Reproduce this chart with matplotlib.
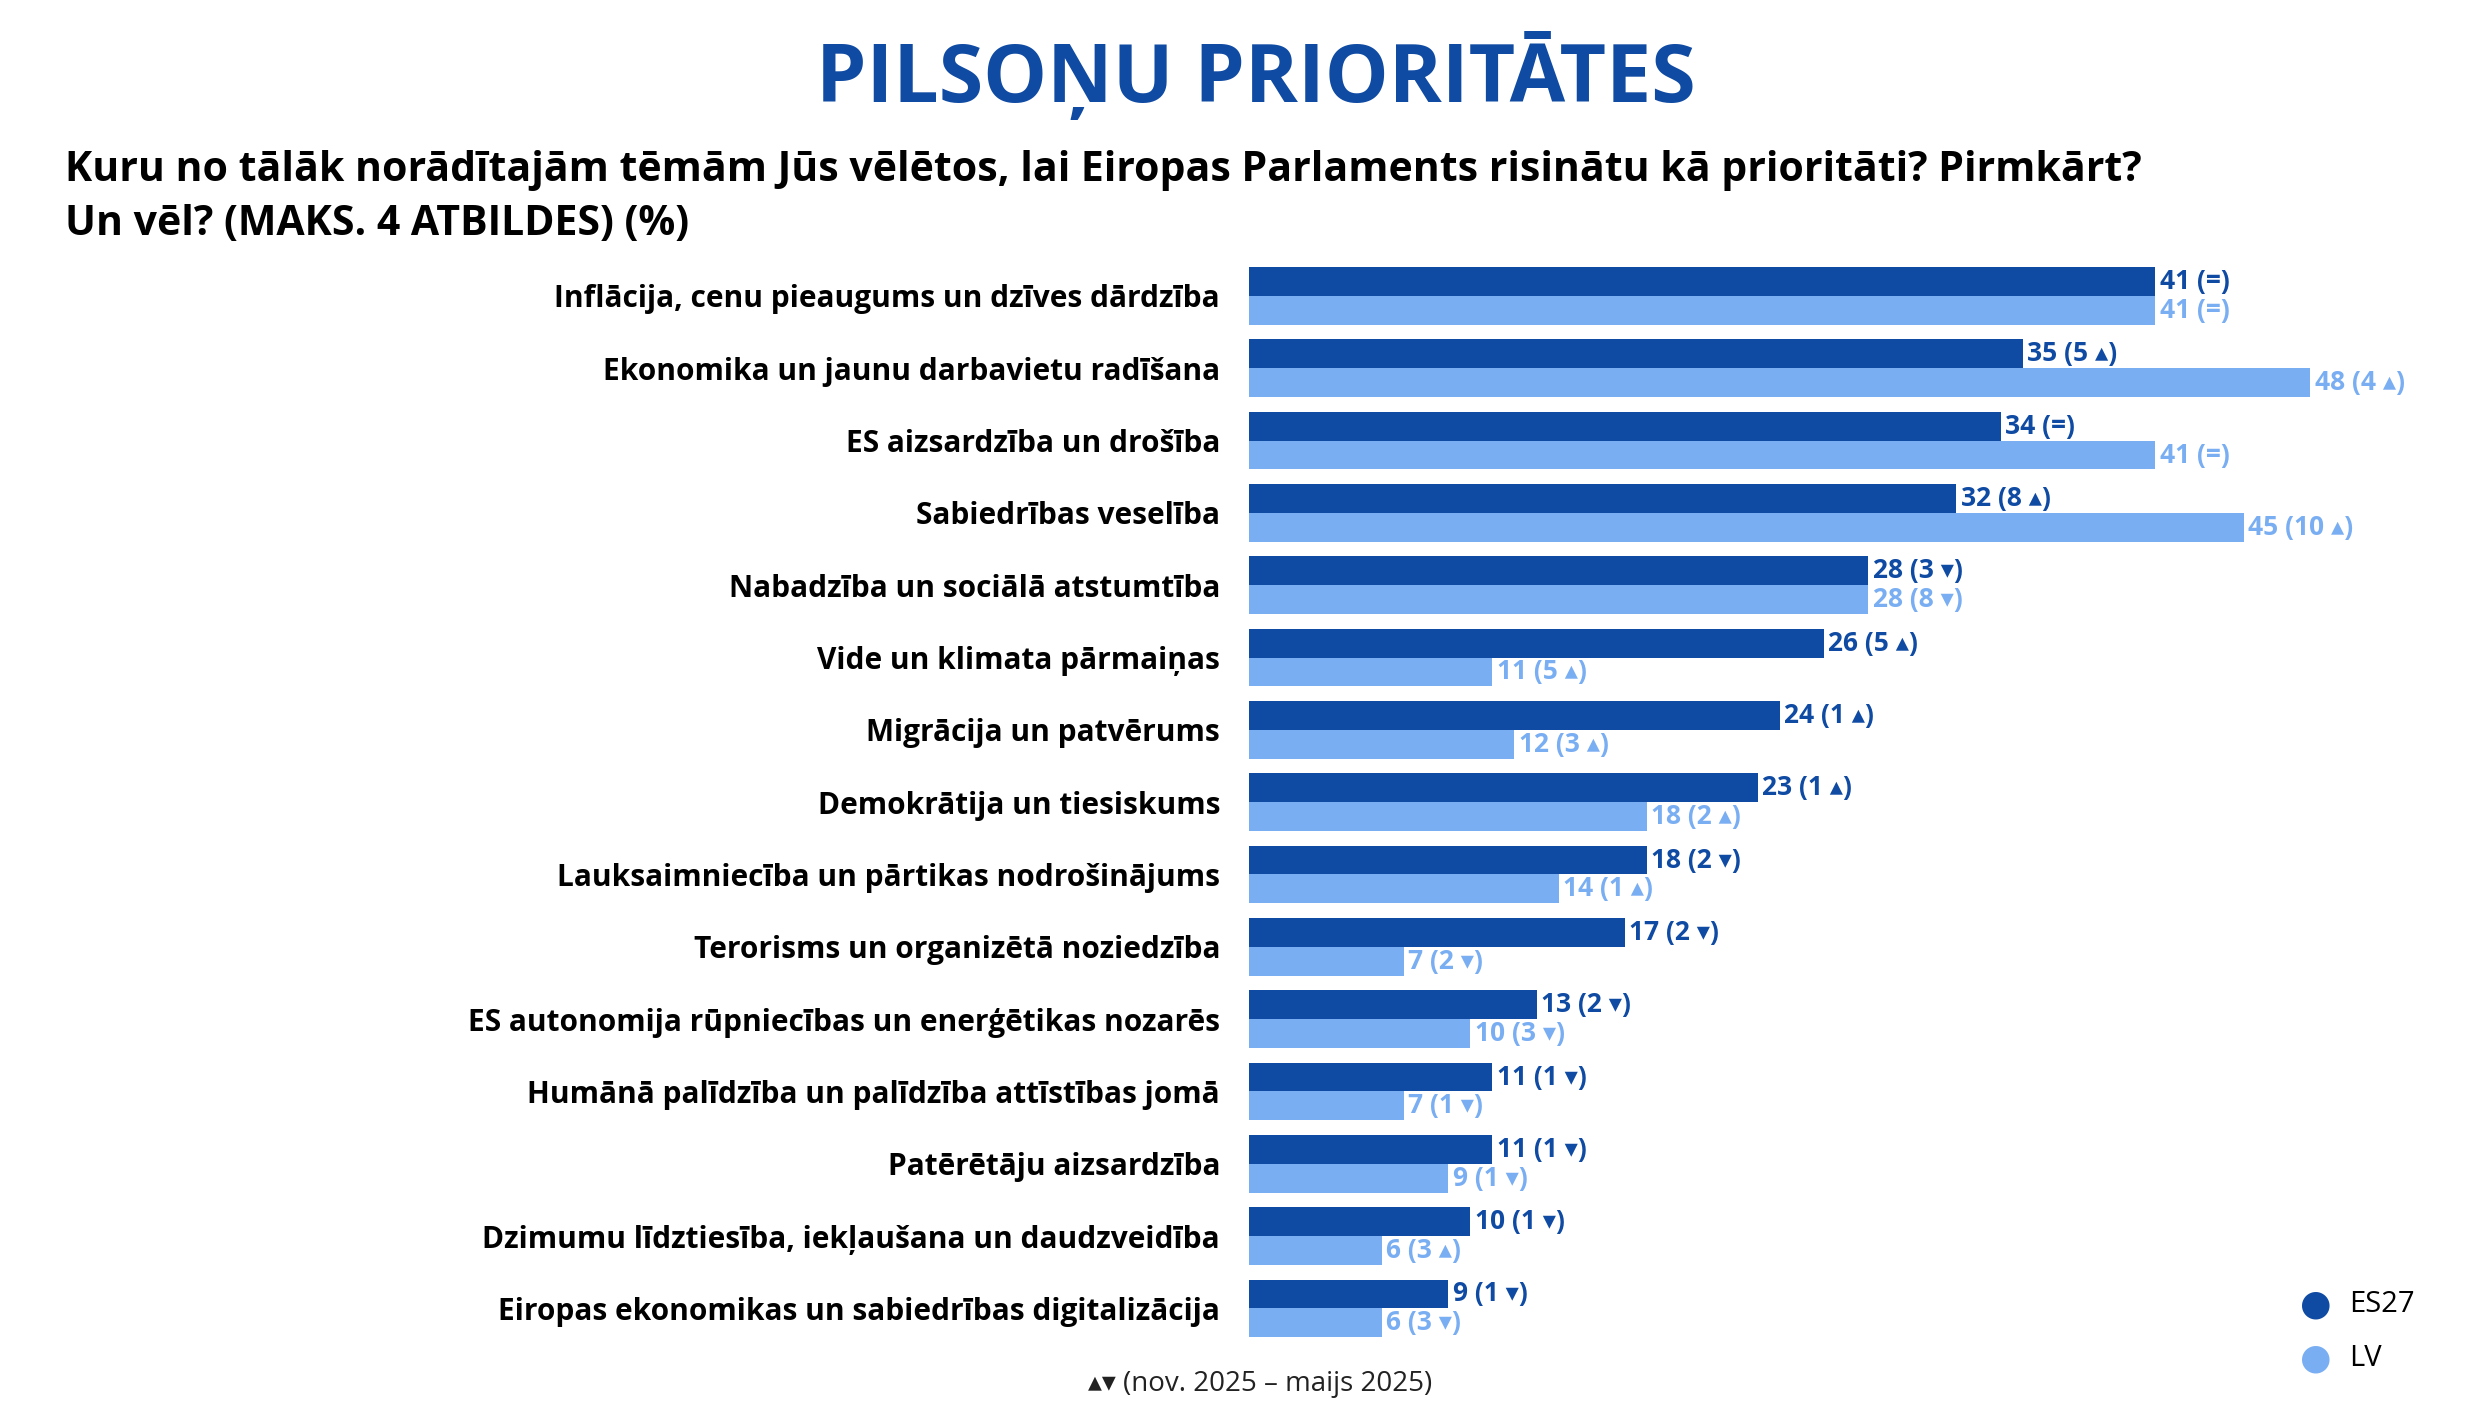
import numpy as np
import matplotlib.pyplot as plt

categories = [
    "Inflācija, cenu pieaugums un dzīves dārdzība",
    "Ekonomika un jaunu darbavietu radīšana",
    "ES aizsardzība un drošība",
    "Sabiedrības veselība",
    "Nabadzība un sociālā atstumtība",
    "Vide un klimata pārmaiņas",
    "Migrācija un patvērums",
    "Demokrātija un tiesiskums",
    "Lauksaimniecība un pārtikas nodrošinājums",
    "Terorisms un organizētā noziedzība",
    "ES autonomija rūpniecības un enerģētikas nozarēs",
    "Humānā palīdzība un palīdzība attīstības jomā",
    "Patērētāju aizsardzība",
    "Dzimumu līdztiesība, iekļaušana un daudzveidība",
    "Eiropas ekonomikas un sabiedrības digitalizācija",
]
es27 = [41, 35, 34, 32, 28, 26, 24, 23, 18, 17, 13, 11, 11, 10, 9]
es27_change = ["=", "5 ▴", "=", "8 ▴", "3 ▾", "5 ▴", "1 ▴", "1 ▴", "2 ▾", "2 ▾",
               "2 ▾", "1 ▾", "1 ▾", "1 ▾", "1 ▾"]
lv = [41, 48, 41, 45, 28, 11, 12, 18, 14, 7, 10, 7, 9, 6, 6]
lv_change = ["=", "4 ▴", "=", "10 ▴", "8 ▾", "5 ▴", "3 ▴", "2 ▴", "1 ▴", "2 ▾",
             "3 ▾", "1 ▾", "1 ▾", "3 ▴", "3 ▾"]

DARK = "#0f4aa3"
LIGHT = "#7aaef2"
FONT = ["Open Sans", "DejaVu Sans"]
plt.rcParams['font.family'] = FONT

fig = plt.figure(figsize=(24.81, 14.20), dpi=100)
ax = fig.add_axes([0.5035, 0.048, 0.49, 0.764])

n = len(categories)
y = np.arange(n)
h = 0.4
ax.barh(y - h / 2, es27, height=h, color=DARK)
ax.barh(y + h / 2, lv, height=h, color=LIGHT)
for i in range(n):
    ax.text(es27[i] + 0.2, y[i] - h / 2, f"{es27[i]} ({es27_change[i]})",
            va="center", ha="left", fontsize=19, fontweight="bold", color=DARK)
    ax.text(lv[i] + 0.2, y[i] + h / 2, f"{lv[i]} ({lv_change[i]})",
            va="center", ha="left", fontsize=19, fontweight="bold", color=LIGHT)
ax.set_ylim(n - 0.5 + 0.1, -0.5 + 0.1)
ax.set_xlim(0, 55)
ax.set_yticks(y)
ax.set_yticklabels(categories, fontsize=21.5, fontweight="bold")
ax.tick_params(axis="y", length=0, pad=21)
ax.set_xticks([])
for s in ax.spines.values():
    s.set_visible(False)

fig.text(0.506, 0.946, "PILSOŅU PRIORITĀTES", ha="center", va="center",
         fontsize=58, fontweight="bold", color=DARK)
fig.text(0.026, 0.88, "Kuru no tālāk norādītajām tēmām Jūs vēlētos, lai Eiropas Parlaments risinātu kā prioritāti? Pirmkārt?",
         ha="left", va="center", fontsize=29.5, fontweight="bold")
fig.text(0.026, 0.842, "Un vēl? (MAKS. 4 ATBILDES) (%)",
         ha="left", va="center", fontsize=29.5, fontweight="bold")

fig.text(0.508, 0.025, "▴▾ (nov. 2025 – maijs 2025)", ha="center", va="center",
         fontsize=20, color="#222222")

for yy, col, lab in [(0.081, DARK, "ES27"), (0.043, LIGHT, "LV")]:
    fig.text(0.9335, yy, "●", ha="center", va="center", fontsize=26, color=col,
             family=["DejaVu Sans"])
    fig.text(0.947, yy, lab, ha="left", va="center", fontsize=21)

fig.savefig("out.png", dpi=100)
